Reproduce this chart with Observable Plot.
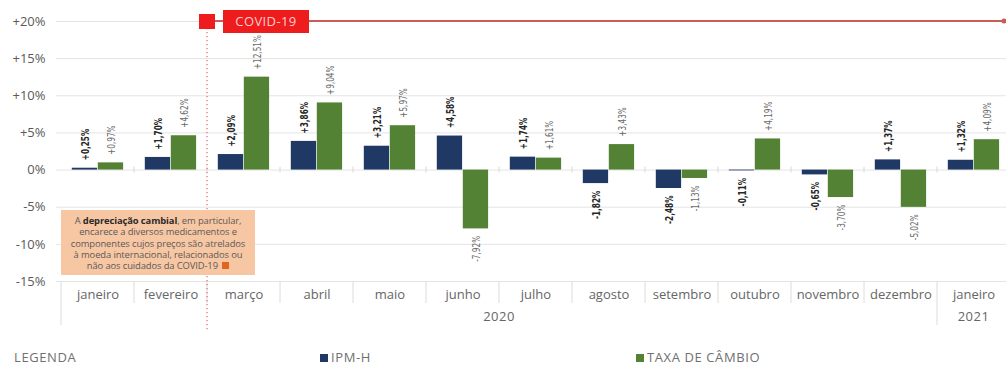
<!DOCTYPE html>
<html><head><meta charset="utf-8">
<script src="https://cdn.jsdelivr.net/npm/d3@7"></script>
<script src="https://cdn.jsdelivr.net/npm/@observablehq/plot@0.6"></script>
<style>
body{margin:0;background:#fff;font-family:"Open Sans",sans-serif;}
#wrap{position:relative;width:1006px;height:365px;overflow:hidden;background:#fff;}
.note{position:absolute;left:61px;top:210px;width:194px;height:65px;background:#f7c6a3;color:#5b5b5b;font-size:9.4px;line-height:11.3px;text-align:center;box-sizing:border-box;padding-top:5px;letter-spacing:-0.1px;}
.note b{color:#2a2a2a;}
.note .sq{display:inline-block;width:7px;height:7px;background:#e2641e;margin-left:2px;vertical-align:0px;}
.legend span{position:absolute;top:351px;font-size:13px;line-height:13px;color:#6f6f6f;letter-spacing:0.6px;white-space:nowrap;}
.legend i{display:inline-block;width:8px;height:8px;margin-right:3px;vertical-align:0px;}
</style></head>
<body>
<div id="wrap"></div>
<script>
const months = ["jan2020","fev2020","mar2020","abr2020","mai2020","jun2020","jul2020","ago2020","set2020","out2020","nov2020","dez2020","jan2021"];
const monthLabels = ["janeiro","fevereiro","março","abril","maio","junho","julho","agosto","setembro","outubro","novembro","dezembro","janeiro"];
const ipmh = [0.25,1.70,2.09,3.86,3.21,4.58,1.74,-1.82,-2.48,-0.11,-0.65,1.37,1.32];
const taxa = [0.97,4.62,12.51,9.04,5.97,-7.92,1.61,3.43,-1.13,4.19,-3.70,-5.02,4.09];
const yTicks = [-15,-10,-5,0,5,10,15,20];
const years = [{label:"2020", from:"jan2020", to:"dez2020"},{label:"2021", from:"jan2021", to:"jan2021"}];
const seriesNames = ["IPM-H","TAXA DE CÂMBIO"];
const seriesColors = ["#1f3864","#548235"];
const covidMonth = "mar2020";
const covidLabel = "COVID-19";

const ipmData = months.map((m,i)=>({m, v: ipmh[i]}));
const taxaData = months.map((m,i)=>({m, v: taxa[i]}));
const fmt = v => (v>0?"+":v<0?"-":"") + Math.abs(v).toFixed(2).replace(".",",") + "%";
const yFmt = d => d>0 ? "+"+d+"%" : (d<0 ? "-"+Math.abs(d)+"%" : "0%");
const labelOf = d => monthLabels[months.indexOf(d)];
const narrow = "'Liberation Sans Narrow','DejaVu Sans Condensed',Roboto,sans-serif";

function extras(index, scales, values, dimensions) {
  const x = scales.x, y = scales.y;
  const bw = x.bandwidth ? x.bandwidth() : 73.7;
  const g = d3.create("svg:g");
  const yb = y(-15), y0 = y(0), y20 = y(20);
  const yearStarts = new Set(years.map(d=>d.from));
  months.forEach(m => {
    const xx = x(m);
    const long = yearStarts.has(m);
    g.append("line").attr("x1",xx).attr("x2",xx).attr("y1",yb).attr("y2",yb+(long?44:22)).attr("stroke","#dcdcdc");
    if (m !== months[0]) g.append("line").attr("x1",xx).attr("x2",xx).attr("y1",y0-3).attr("y2",y0+3).attr("stroke","#d8d8d8");
  });
  years.forEach(d => {
    const cx = (x(d.from) + x(d.to) + bw)/2;
    g.append("text").attr("x",cx).attr("y",yb+36).attr("text-anchor","middle").attr("dy","0.32em")
      .attr("fill","#666").attr("font-size",13).attr("letter-spacing","0.5px").text(d.label);
  });
  const cx = x(covidMonth);
  g.append("line").attr("x1",cx).attr("x2",cx).attr("y1",y20+7).attr("y2",yb+49)
    .attr("stroke","#e06a6a").attr("stroke-width",1.2).attr("stroke-dasharray","1.2,2.8");
  g.append("line").attr("x1",cx+8).attr("x2",dimensions.width-2).attr("y1",y20).attr("y2",y20)
    .attr("stroke","#cc5a58").attr("stroke-width",2);
  g.append("circle").attr("cx",dimensions.width-2).attr("cy",y20).attr("r",2.5).attr("fill","#cc5a58");
  g.append("rect").attr("x",cx-8).attr("y",y20-7).attr("width",16).attr("height",15).attr("fill","#ee1c1c");
  g.append("rect").attr("x",cx+16).attr("y",y20-11).attr("width",86).attr("height",23).attr("fill","#ee1c1c");
  g.append("text").attr("x",cx+59).attr("y",y20+0.5).attr("text-anchor","middle").attr("dy","0.35em")
    .attr("fill","#ffcccc").attr("font-size",13).attr("letter-spacing","0.4px").text(covidLabel);
  return g.node();
}

const chart = Plot.plot({
  width: 1006, height: 350,
  marginLeft: 56, marginRight: 0, marginTop: 21, marginBottom: 69,
  x: {type:"band", domain: months, range:[56.2, 1014], padding:0, label:null},
  y: {domain:[-15,20], range:[281,21], label:null},
  style: {fontFamily:"'Open Sans', sans-serif", fontSize:"13px", color:"#5f5f5f", background:"#fff", overflow:"visible"},
  marks: [
    Plot.gridY(yTicks, {stroke:"#e4e4e4", strokeOpacity:1}),
    Plot.axisY(yTicks, {tickSize:0, tickPadding:11, tickFormat: yFmt, fill:"#5a5a5a", fontSize:13, label:null}),
    Plot.axisX({tickSize:0, tickPadding:8, tickFormat: labelOf, fill:"#666", fontSize:13, label:null}),
    Plot.barY(ipmData, {x:"m", y:"v", fill:seriesColors[0], insetLeft:10.8, insetRight:36.9}),
    Plot.barY(taxaData, {x:"m", y:"v", fill:seriesColors[1], insetLeft:36.8, insetRight:10.9}),
    Plot.text(ipmData, {filter:d=>d.v>=0, x:"m", y:"v", text:d=>fmt(d.v), rotate:-90, textAnchor:"start", dx:-13, dy:-8, fontWeight:"bold", fill:"#262626", fontSize:11, fontFamily:narrow}),
    Plot.text(ipmData, {filter:d=>d.v<0, x:"m", y:"v", text:d=>fmt(d.v), rotate:-90, textAnchor:"end", dx:-13, dy:7, fontWeight:"bold", fill:"#262626", fontSize:11, fontFamily:narrow}),
    Plot.text(taxaData, {filter:d=>d.v>=0, x:"m", y:"v", text:d=>fmt(d.v), rotate:-90, textAnchor:"start", dx:13, dy:-8, fill:"#6a6a6a", fontSize:11, fontFamily:narrow}),
    Plot.text(taxaData, {filter:d=>d.v<0, x:"m", y:"v", text:d=>fmt(d.v), rotate:-90, textAnchor:"end", dx:13, dy:7, fill:"#6a6a6a", fontSize:11, fontFamily:narrow}),
    extras
  ]
});
const wrap = document.getElementById("wrap");
wrap.appendChild(chart);

// condense the rotated value labels (the reference uses a narrow face)
chart.querySelectorAll("g[font-family*='Narrow'] text").forEach(t => {
  const len = t.getComputedTextLength();
  if (len > 0) { t.setAttribute("textLength", (len*0.74).toFixed(1)); t.setAttribute("lengthAdjust","spacingAndGlyphs"); }
});

const note = document.createElement("div");
note.className = "note";
note.innerHTML = "A <b>depreciação cambial</b>, em particular,<br>encarece a diversos medicamentos e<br>componentes cujos preços são atrelados<br>à moeda internacional, relacionados ou<br>não aos cuidados da COVID-19 <span class='sq'></span>";
wrap.appendChild(note);

const legend = document.createElement("div");
legend.className = "legend";
const items = [{text:"LEGENDA", left:14}, {text:seriesNames[0], left:320, color:seriesColors[0]}, {text:seriesNames[1], left:636, color:seriesColors[1]}];
items.forEach(it => {
  const s = document.createElement("span");
  s.style.left = it.left + "px";
  if (it.color) { const i = document.createElement("i"); i.style.background = it.color; s.appendChild(i); }
  s.appendChild(document.createTextNode(it.text));
  legend.appendChild(s);
});
wrap.appendChild(legend);
</script>
</body></html>
